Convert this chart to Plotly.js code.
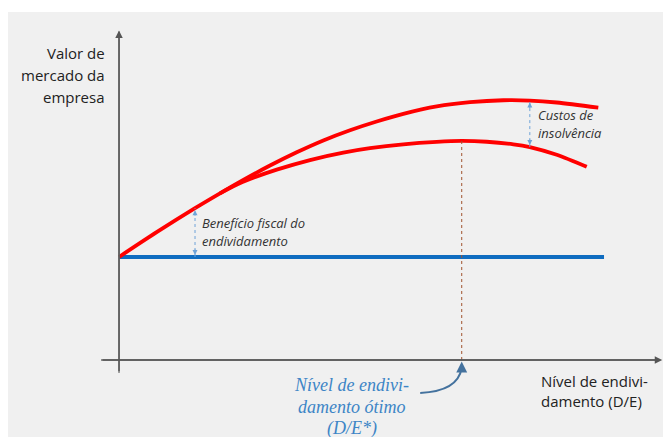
<!DOCTYPE html>
<html>
<head>
<meta charset="utf-8">
<script src="https://cdn.plot.ly/plotly-3.0.1.min.js"></script>
<style>
  html, body { margin: 0; padding: 0; background: #ffffff; }
  #chart { width: 663px; height: 437px; }
</style>
</head>
<body>
<div id="chart"></div>
<script>
// Firm value with and without debt (trade-off theory of capital structure)
// x: leverage D/E (arbitrary units), y: market value of the firm (arbitrary units)

// Unlevered firm value (flat line)
const baseX = [0, 10];
const baseY = [10, 10];

// Value with tax shield only (upper curve)
const upperX = [0, 0.784, 1.567, 2.082, 2.563, 3.113, 3.664, 4.212, 4.763, 5.313, 5.862, 6.551, 7.237, 7.924, 8.47, 9.025, 9.882];
const upperY = [10, 12.43, 14.74, 16.18, 17.48, 18.88, 20.17, 21.32, 22.31, 23.16, 23.90, 24.62, 25.03, 25.22, 25.19, 25.0, 24.5];

// Value with tax shield minus financial distress costs (lower curve)
const lowerX = [2.082, 2.4, 2.701, 3.252, 3.938, 4.625, 5.175, 5.862, 6.551, 7.066, 7.581, 8.13, 8.47, 9.025, 9.643];
const lowerY = [16.18, 16.97, 17.57, 18.48, 19.41, 20.13, 20.56, 20.94, 21.18, 21.27, 21.19, 20.94, 20.67, 19.92, 18.75];

// Points where the gaps are marked
const taxShieldX = 1.567;
const distressX = 8.47;

// Optimal leverage = peak of the lower curve
const peakIdx = lowerY.indexOf(Math.max(...lowerY));
const optimalX = lowerX[peakIdx];
const optimalY = lowerY[peakIdx];

function valueAt(xs, ys, x) {
  return ys[xs.indexOf(x)];
}

const traces = [
  { x: baseX, y: baseY, mode: 'lines', line: { color: '#0f6cc0', width: 4 }, hoverinfo: 'skip' },
  { x: upperX, y: upperY, mode: 'lines', line: { color: '#ff0000', width: 3.8, shape: 'spline', smoothing: 0.8 }, hoverinfo: 'skip' },
  { x: lowerX, y: lowerY, mode: 'lines', line: { color: '#ff0000', width: 3.8, shape: 'spline', smoothing: 0.8 }, hoverinfo: 'skip' }
];

const axisColor = '#555555';
const gapColor = '#6fa3d8';

const shapes = [
  // dotted drop line at optimal leverage
  { type: 'line', x0: optimalX, x1: optimalX, y0: 0, y1: optimalY,
    line: { color: '#a0522d', width: 1, dash: 'dot' } },
  // tax shield gap
  { type: 'line', x0: taxShieldX, x1: taxShieldX, y0: baseY[0], y1: valueAt(upperX, upperY, taxShieldX),
    line: { color: gapColor, width: 1, dash: 'dot' } },
  // distress cost gap
  { type: 'line', x0: distressX, x1: distressX, y0: valueAt(lowerX, lowerY, distressX), y1: valueAt(upperX, upperY, distressX),
    line: { color: gapColor, width: 1, dash: 'dot' } },
  // curved pointer towards the optimal leverage
  { type: 'path', path: `M 6.21 -3.20 Q 6.99 -3.05 ${optimalX} -0.75`,
    line: { color: '#44729e', width: 2 } },
  // axis lines
  { type: 'line', x0: 0, x1: 0, y0: -1.26, y1: 31.9, line: { color: '#888888', width: 1.5 } },
  { type: 'line', x0: -0.37, x1: 11.1, y0: 0, y1: 0, line: { color: '#666666', width: 1.5 } }
];

const bodyFont = '"Open Sans", Lato, sans-serif';
const serifFont = '"Liberation Serif", "DejaVu Serif", serif';

function label(x, y, text, anchor, size, color, italic, family) {
  const font = { family: family || bodyFont, size: size, color: color };
  if (italic) font.style = 'italic';
  return { x: x, y: y, xanchor: anchor, yanchor: 'middle', align: anchor === 'center' ? 'center' : anchor,
           showarrow: false, text: text, font: font };
}

function head(x, y, ay, color, width, size) {
  return { x: x, y: y, ax: 0, ay: ay, showarrow: true, arrowhead: 2, arrowsize: size || 1,
           arrowwidth: width, arrowcolor: color, text: '' };
}

const annotations = [
  // axes with arrowheads
  { x: 0, y: 32.0, ax: 0, ay: -1.25, xref: 'x', yref: 'y', axref: 'x', ayref: 'y',
    showarrow: true, arrowhead: 2, arrowsize: 1, arrowwidth: 1.5, arrowcolor: axisColor, text: '' },
  { x: 11.20, y: 0, ax: -0.37, ay: 0, xref: 'x', yref: 'y', axref: 'x', ayref: 'y',
    showarrow: true, arrowhead: 2, arrowsize: 1, arrowwidth: 1.5, arrowcolor: axisColor, text: '' },

  // arrowheads on the gap markers
  head(taxShieldX, valueAt(upperX, upperY, taxShieldX) - 0.2, 7, gapColor, 1),
  head(taxShieldX, baseY[0] + 0.2, -7, gapColor, 1),
  head(distressX, valueAt(upperX, upperY, distressX) - 0.2, 7, gapColor, 1),
  head(distressX, valueAt(lowerX, lowerY, distressX) + 0.2, -7, gapColor, 1),

  // head of the curved pointer
  head(optimalX, -0.15, 10, '#44729e', 2, 1.1),

  // y label
  label(-0.25, 29.8, 'Valor de', 'right', 15, '#222222'),
  label(-0.25, 27.65, 'mercado da', 'right', 15, '#222222'),
  label(-0.25, 25.5, 'empresa', 'right', 15, '#222222'),

  // x label
  label(8.65, -2.05, 'Nível de endivi-', 'left', 15, '#222222'),
  label(8.65, -3.95, 'damento (D/E)', 'left', 15, '#222222'),

  // gap labels
  label(1.66, 13.3, 'Benefício fiscal do', 'left', 13, '#333333', true),
  label(1.66, 11.55, 'endividamento', 'left', 13, '#333333', true),
  label(8.6, 23.75, 'Custos de', 'left', 13, '#333333', true),
  label(8.6, 22.0, 'insolvência', 'left', 13, '#333333', true),

  // optimal leverage label
  label(4.8, -2.45, 'Nível de endivi-', 'center', 18, '#3d85c6', true, serifFont),
  label(4.8, -4.55, 'damento ótimo', 'center', 18, '#3d85c6', true, serifFont),
  label(4.8, -6.65, '(D/E*)', 'center', 18, '#3d85c6', true, serifFont)
];

const layout = {
  width: 663,
  height: 437,
  margin: { l: 8, r: 0, t: 12, b: 0, pad: 0 },
  paper_bgcolor: '#ffffff',
  plot_bgcolor: '#f0f0f0',
  showlegend: false,
  xaxis: { range: [-2.289, 11.216], visible: false, fixedrange: true },
  yaxis: { range: [-7.476, 33.786], visible: false, fixedrange: true },
  shapes: shapes,
  annotations: annotations
};

Plotly.newPlot('chart', traces, layout, { displayModeBar: false, staticPlot: true });
</script>
</body>
</html>
